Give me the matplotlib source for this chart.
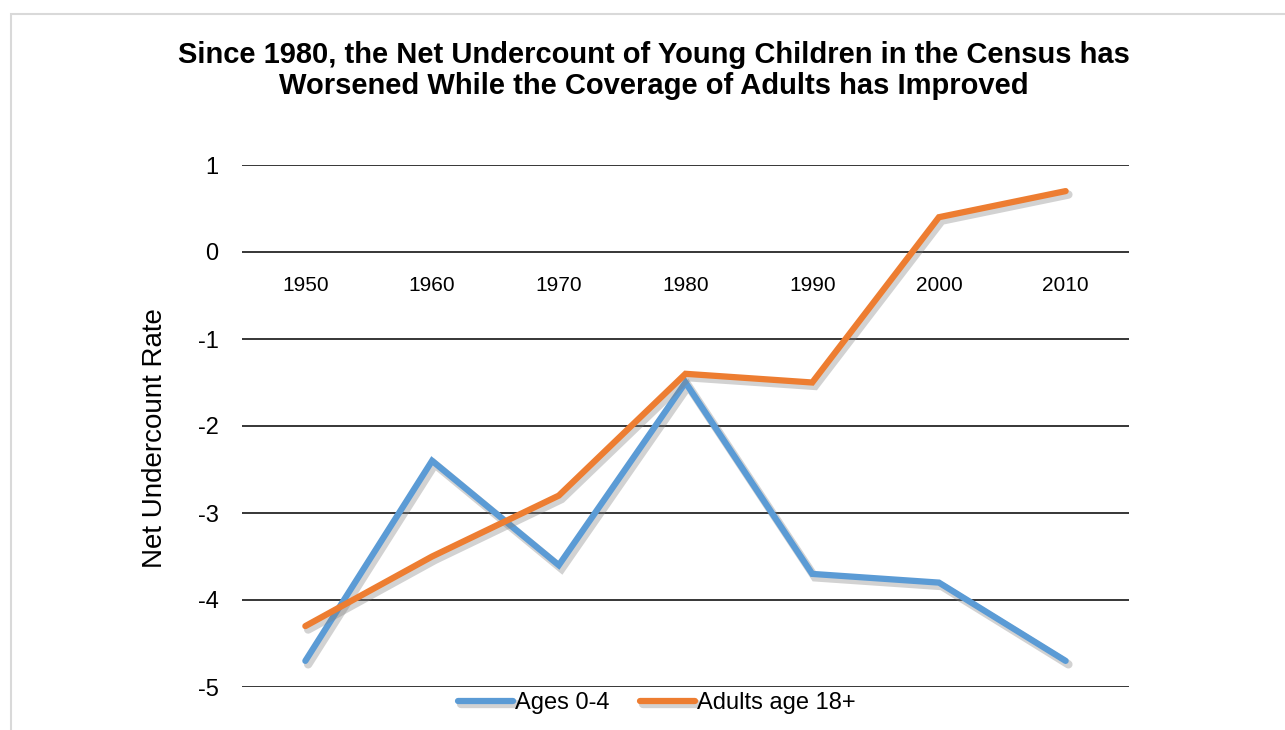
import numpy as np
import matplotlib
matplotlib.use('Agg')
import matplotlib.pyplot as plt
import matplotlib.patheffects as pe
from matplotlib.patches import Rectangle

years = ['1950', '1960', '1970', '1980', '1990', '2000', '2010']
ages_0_4 = [-4.7, -2.4, -3.6, -1.5, -3.7, -3.8, -4.7]
adults_18 = [-4.3, -3.5, -2.8, -1.4, -1.5, 0.4, 0.7]
y_ticks = [-5, -4, -3, -2, -1, 0, 1]

plt.rcParams['font.family'] = ['Liberation Sans', 'DejaVu Sans']

fig = plt.figure(figsize=(12.85, 7.3), dpi=100)
# light grey chart border, cut off at the right and bottom edges
fig.patches.append(Rectangle((11 / 1285, -0.1), 1.2, 1 - 14 / 730 + 0.1, transform=fig.transFigure,
                             facecolor='none', edgecolor='#d9d9d9', linewidth=1.5))

ax = fig.add_axes([242 / 1285, 1 - 687 / 730, (1129 - 242) / 1285, (687 - 165) / 730])
x = np.arange(len(years))

shadow = [pe.SimpleLineShadow(offset=(2, -2.5), shadow_color='gray', alpha=0.35, linewidth=6), pe.Normal()]
ax.plot(x, ages_0_4, color='#5B9BD5', linewidth=4.5, solid_capstyle='round', solid_joinstyle='miter',
        label='Ages 0-4', path_effects=shadow, zorder=3)
ax.plot(x, adults_18, color='#ED7D31', linewidth=4.5, solid_capstyle='round', solid_joinstyle='miter',
        label='Adults age 18+', path_effects=shadow, zorder=4)

ax.set_xlim(-0.5, len(years) - 0.5)
ax.set_ylim(-5, 1)
ax.spines['bottom'].set_position(('data', 0))  # year labels sit under the zero line
ax.set_yticks(y_ticks)
ax.set_yticklabels([str(v) for v in y_ticks])
ax.set_xticks(x)
ax.set_xticklabels(years)
for s in ax.spines.values():
    s.set_visible(False)
ax.tick_params(axis='x', length=0, pad=17, labelsize=15)
ax.tick_params(axis='y', length=0, pad=17, labelsize=17)
ax.yaxis.grid(True, color='black', linewidth=1.1)
ax.set_axisbelow(True)

fig.text(155 / 1285, 1 - 438 / 730, 'Net Undercount Rate', rotation=90, fontsize=20,
         ha='center', va='center')
fig.text(654 / 1285, 1 - 70.5 / 730, 'Since 1980, the Net Undercount of Young Children in the Census has\n'
         'Worsened While the Coverage of Adults has Improved',
         fontsize=21, fontweight='bold', ha='center', va='center', linespacing=1.18)

ax.legend(loc='center', bbox_to_anchor=(657 / 1285, 1 - 703 / 730), bbox_transform=fig.transFigure,
          ncol=2, frameon=False, fontsize=17, handlelength=2.3, handletextpad=0.1, columnspacing=1.3)

plt.savefig('out.png', dpi=100)
plt.close()
